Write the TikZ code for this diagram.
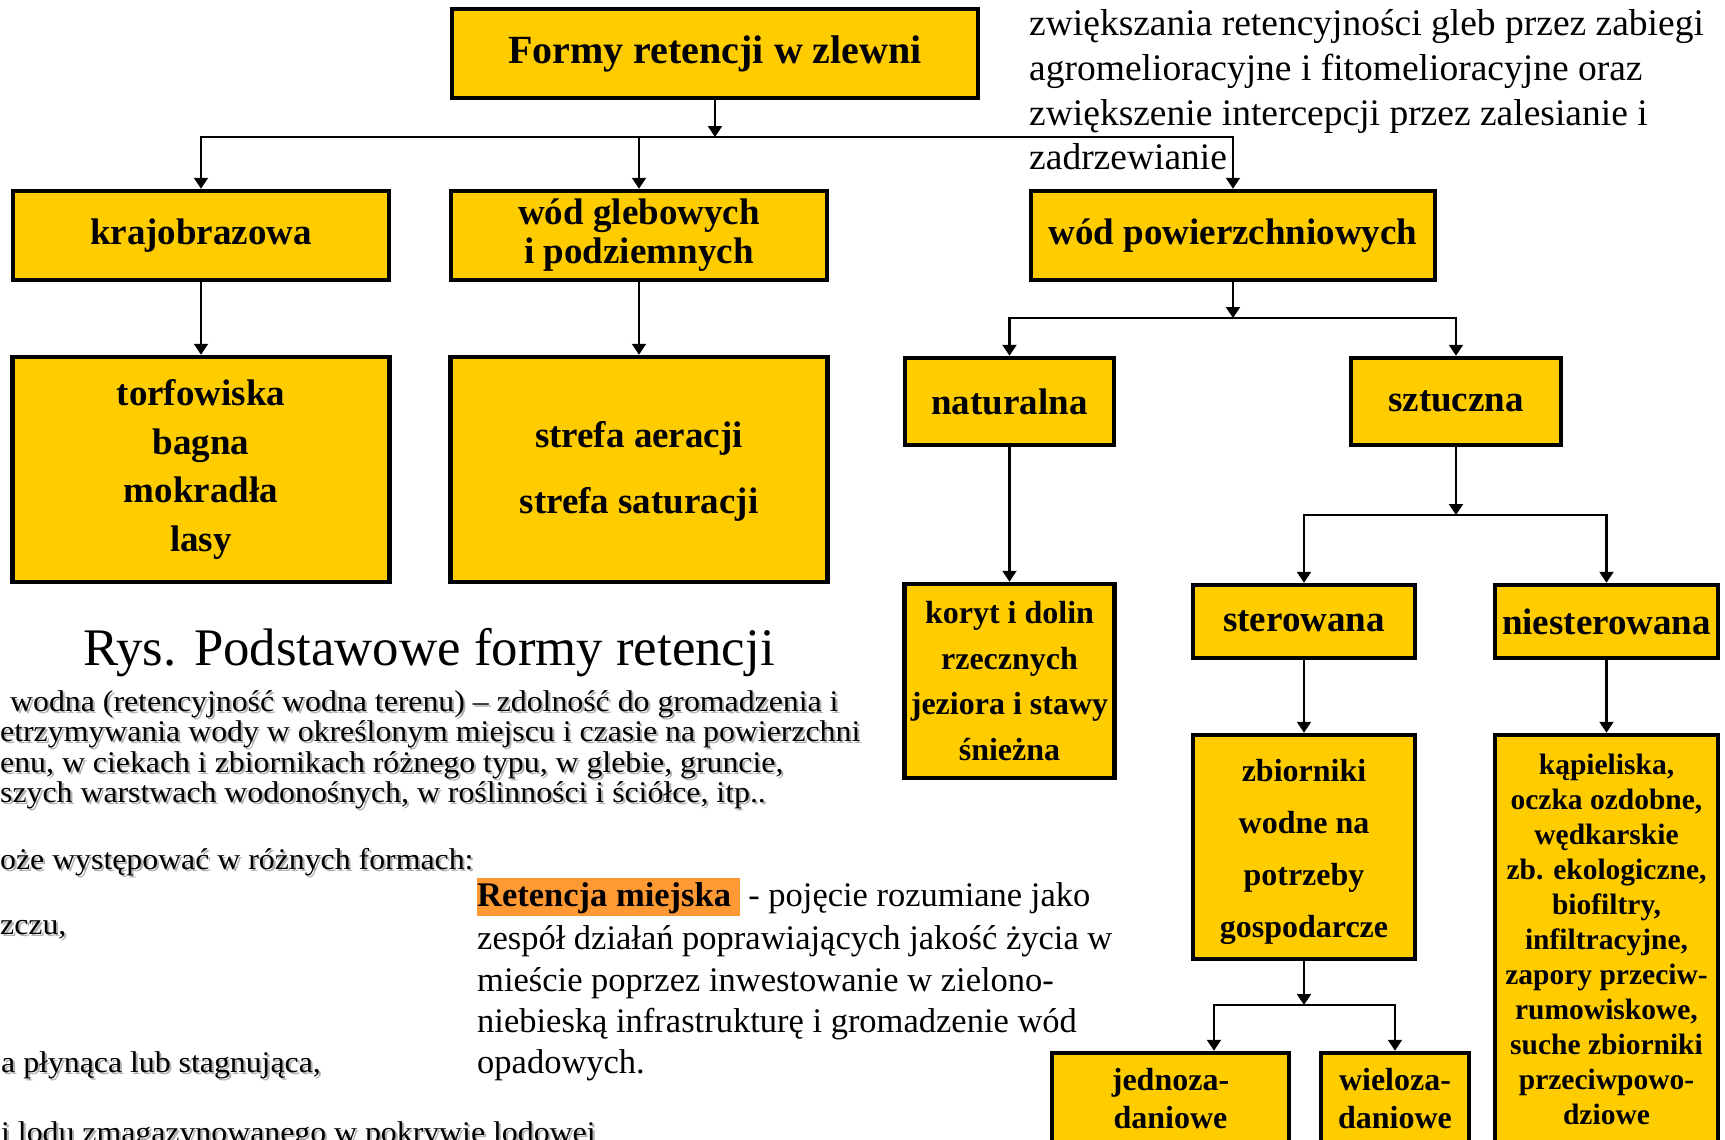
\documentclass[tikz,border=0pt]{standalone}
\usepackage{graphicx}
\usepackage{fontspec}
\setmainfont{Liberation Serif}
\usetikzlibrary{arrows.meta}
\definecolor{boxy}{HTML}{FFCC00}
\definecolor{hl}{HTML}{FF9933}
\newcommand{\fsz}[2]{\fontsize{#1}{#2}\selectfont}
\newcommand{\shd}[1]{\scalebox{1.06}[1]{\rlap{\kern2pt\smash{\raisebox{-2pt}{\textcolor{black!30}{#1}}}}#1}}
\begin{document}
\begin{tikzpicture}[x=1pt,y=-1pt,
  box/.style={draw=black,line width=4.5pt,fill=boxy,inner sep=0pt,align=center},
  conn/.style={line width=2.2pt,-{Triangle[length=11pt,width=14pt]}},
  txt/.style={anchor=base west,inner sep=0pt},
  body/.style={txt,font=\fsz{30}{32}},
  ret/.style={txt,font=\fsz{34.5}{40}},
  note/.style={txt,font=\fsz{37.5}{45}}]
\useasboundingbox (0,0) rectangle (1725,1140);
\clip (0,0) rectangle (1725,1140);
\fill[white] (0,0) rectangle (1725,1140);

% ---- boxes ----
\node[box,minimum width=526pt,minimum height=89pt,font=\bfseries\fsz{40}{48}] (T) at (715,53.5) {Formy retencji w zlewni};
\node[box,minimum width=376pt,minimum height=89pt,font=\bfseries\fsz{37}{39}] (K) at (201,235.5) {krajobrazowa};
\node[box,minimum width=376pt,minimum height=89pt,font=\bfseries\fsz{37}{39}] (G) at (639,235.5) {wód glebowych\\i podziemnych};
\node[box,minimum width=404pt,minimum height=89pt,font=\bfseries\fsz{37}{39}] (P) at (1233,235.5) {wód powierzchniowych};
\node[box,minimum width=377pt,minimum height=225pt,font=\bfseries\fsz{37}{48.7}] (TB) at (201,469.5) {torfowiska\\bagna\\mokradła\\lasy};
\node[box,minimum width=377pt,minimum height=225pt,font=\bfseries\fsz{37}{66}] (SA) at (639,469.5) {\rule{0pt}{30pt}strefa aeracji\\strefa saturacji};
\node[box,minimum width=209pt,minimum height=87pt,font=\bfseries\fsz{37}{40}] (N) at (1009.5,401.5) {naturalna};
\node[box,minimum width=210pt,minimum height=87pt,font=\bfseries\fsz{37}{40}] (S) at (1456,401.5) {sztuczna};
\node[box,minimum width=210pt,minimum height=194pt,font=\bfseries\fsz{32}{45.7}] (KD) at (1009.5,681) {koryt i dolin\\rzecznych\\jeziora i stawy\\śnieżna};
\node[box,minimum width=222pt,minimum height=73pt,font=\bfseries\fsz{37}{40}] (ST) at (1304,621.5) {sterowana};
\node[box,minimum width=223pt,minimum height=73pt,font=\bfseries\fsz{37}{40}] (NI) at (1606.5,621.5) {niesterowana};
\node[box,minimum width=222pt,minimum height=224pt,font=\bfseries\fsz{32}{52}] (ZB) at (1304,847) {\rule{0pt}{32pt}zbiorniki\\wodne na\\potrzeby\\gospodarcze};
\node[box,minimum width=223pt,minimum height=409pt,font=\bfseries\fsz{29.5}{35}] (KP) at (1606.5,939.5) {kąpieliska,\\oczka ozdobne,\\wędkarskie\\zb. ekologiczne,\\biofiltry,\\infiltracyjne,\\zapory przeciw-\\rumowiskowe,\\suche zbiorniki\\przeciwpowo-\\dziowe};
\node[box,minimum width=237pt,minimum height=91pt,font=\bfseries\fsz{32}{38}] (J) at (1170.5,1098.5) {jednoza-\\daniowe};
\node[box,minimum width=148pt,minimum height=91pt,font=\bfseries\fsz{32}{38}] (W) at (1395,1098.5) {wieloza-\\daniowe};

% ---- junctions ----
\coordinate (j1) at (715,137);
\coordinate (j2) at (1233,318);
\coordinate (j3) at (1456,515);
\coordinate (j4) at (1304,1005);

% ---- connectors ----
\draw[conn] (T.south) -- (j1);
\draw[conn] (j1) -| (K.north);
\draw[conn] (j1) -| (G.north);
\draw[conn] (j1) -| (P.north);
\draw[conn] (K.south) -- (K.south |- TB.north);
\draw[conn] (G.south) -- (G.south |- SA.north);
\draw[conn] (P.south) -- (j2);
\draw[conn] (j2) -| (N.north);
\draw[conn] (j2) -| (S.north);
\draw[conn] (N.south) -- (N.south |- KD.north);
\draw[conn] (S.south) -- (j3);
\draw[conn] (j3) -| (ST.north);
\draw[conn] (j3) -| (NI.north);
\draw[conn] (ST.south) -- (ST.south |- ZB.north);
\draw[conn] (NI.south) -- (NI.south |- KP.north);
\draw[conn] (ZB.south) -- (j4);
\draw[conn] (j4) -| ([xshift=43.5pt]J.north);
\draw[conn] (j4) -| (W.north);

% ---- top-right note ----
\node[note] (n1) at (1029,36) {zwiększania retencyjności gleb przez zabiegi};
\node[note] (n2) at (1029,81) {agromelioracyjne i fitomelioracyjne oraz};
\node[note] (n3) at (1029,125) {zwiększenie intercepcji przez zalesianie i};
\node[note] (n4) at (1029,169) {zadrzewianie};

% ---- caption ----
\node[txt,font=\fsz{52.8}{60}] (cap) at (83,665) {Rys. Podstawowe formy retencji};

% ---- left body text ----
\node[body] (l1) at (10,711) {\shd{wodna (retencyjność wodna terenu) – zdolność do gromadzenia i}};
\node[body] (l2) at (0,741) {\shd{etrzymywania wody w określonym miejscu i czasie na powierzchni}};
\node[body] (l3) at (0,772) {\shd{enu, w ciekach i zbiornikach różnego typu, w glebie, gruncie,}};
\node[body] (l4) at (0,802) {\shd{szych warstwach wodonośnych, w roślinności i ściółce, itp..}};
\node[body] (l5) at (0,869) {\shd{oże występować w różnych formach:}};
\node[body] (l6) at (0,934) {\shd{zczu,}};
\node[body] (l7) at (1,1072) {\shd{a płynąca lub stagnująca,}};
\node[body] (l8) at (1,1142) {\shd{i lodu zmagazynowanego w pokrywie lodowej}};

% ---- Retencja miejska ----
\node[ret] (r1) at (477,906) {\setlength{\fboxsep}{0pt}\colorbox{hl}{\rule[-0.29em]{0pt}{1.1em}\textbf{Retencja miejska}\hspace{0.25em}} - pojęcie rozumiane jako};
\node[ret] (r2) at (477,949) {zespół działań poprawiających jakość życia w};
\node[ret] (r3) at (477,991) {mieście poprzez inwestowanie w zielono-};
\node[ret] (r4) at (477,1032) {niebieską infrastrukturę i gromadzenie wód};
\node[ret] (r5) at (477,1073) {opadowych.};
\end{tikzpicture}
\end{document}
